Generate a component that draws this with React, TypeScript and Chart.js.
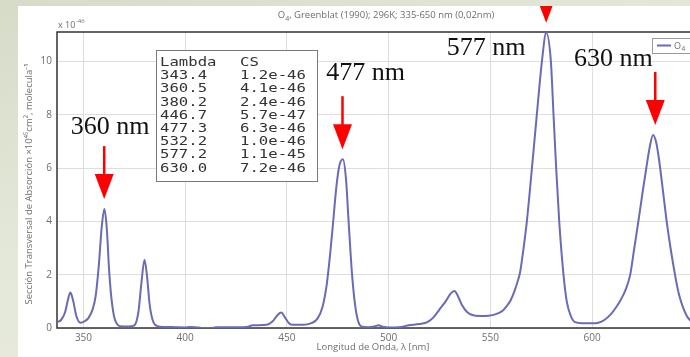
import React, { useEffect, useRef } from 'react';
import { Chart, registerables } from 'chart.js';

Chart.register(...registerables);

// ---- data ----
const wavelengths = [
  337, 339, 341, 342.5, 343.6, 345, 346.5, 348.5, 350.5, 352.5, 354.5, 356, 357.5, 359, 360.3, 361.5,
  362.5, 363.5, 365, 366.5, 368, 372, 375, 377, 378.5, 380, 381.3, 382.5, 384, 386, 390, 395, 400,
  402, 405, 408, 413, 415, 425, 431, 433, 440, 443, 445.5, 447.3, 449, 451, 453, 458, 462, 465,
  467.5, 469.5, 471, 472.5, 474.3, 475.8, 477.5, 479, 480.3, 482, 483.6, 485, 486.5, 490, 493, 495,
  497, 500, 505, 510, 515, 519, 522, 525, 528, 530.5, 532.3, 534, 536, 538.5, 541, 545, 549, 553,
  556, 558, 560, 562, 563.5, 564.6, 566.2, 567.9, 570.4, 572.8, 575.3, 577.4, 579.7, 581, 582.3, 583.8, 585.9,
  587.5, 589.5, 591.6, 595, 600, 603, 606, 609, 611.5, 614, 616.5, 618.7, 620.7, 622.7, 624.8, 626.6, 628.2,
  629.9, 631.5, 632.6, 633.4, 635, 636.6, 638.5, 640.7, 642.5, 644.5, 646.5, 648, 650,
];
const crossSection = [
  0.22, 0.3, 0.6, 1.1, 1.33, 1.0, 0.45, 0.2, 0.25, 0.38, 0.7, 1.2, 2.3, 3.8, 4.46, 3.7,
  2.3, 1.3, 0.45, 0.15, 0.07, 0.06, 0.1, 0.6, 1.7, 2.56, 1.9, 0.9, 0.3, 0.08, 0.04, 0.03, 0.02,
  0.04, 0.03, 0.0, 0.0, 0.03, 0.03, 0.05, 0.1, 0.12, 0.25, 0.5, 0.58, 0.4, 0.18, 0.12, 0.12, 0.18, 0.35,
  0.8, 1.6, 2.6, 3.8, 5.3, 6.1, 6.33, 5.6, 4.0, 2.0, 0.8, 0.25, 0.06, 0.03, 0.06, 0.1,
  0.05, 0.02, 0.03, 0.1, 0.15, 0.22, 0.4, 0.7, 1.0, 1.3, 1.39, 1.2, 0.86, 0.6, 0.49, 0.45, 0.46, 0.53,
  0.65, 0.82, 1.05, 1.42, 1.78, 2.1, 2.95, 4.0, 6.0, 8.0, 10.0, 11.07, 10.0, 8.0, 6.0, 4.0, 2.0,
  1.0, 0.45, 0.22, 0.18, 0.18, 0.2, 0.3, 0.5, 0.75, 1.05, 1.45, 2.0, 3.0, 4.0, 5.1, 6.0, 6.75,
  7.24, 6.95, 6.45, 6.0, 5.0, 4.0, 3.0, 2.0, 1.3, 0.8, 0.45, 0.3, 0.18,
];
const xTicks = [350, 400, 450, 500, 550, 600];
const yTicks = [0, 2, 4, 6, 8, 10];

const peakLabels = ['360 nm', '477 nm', '577 nm', '630 nm'];
const peakLambda = [360.2, 477.3, 577.4, 631.0];
const peakValue = [4.46, 6.33, 11.07, 7.24];

const tableLambda = ['343.4', '360.5', '380.2', '446.7', '477.3', '532.2', '577.2', '630.0'];
const tableCS = ['1.2e-46', '4.1e-46', '2.4e-46', '5.7e-47', '6.3e-46', '1.0e-46', '1.1e-45', '7.2e-46'];

const seriesName = 'O';
const seriesSub = '4';
const titleRest = ', Greenblat (1990); 296K; 335-650 nm (0,02nm)';
const xTitle = 'Longitud de Onda, λ [nm]';
const yTitle = 'Sección Transversal de Absorción ×10⁴⁵cm², molecula⁻¹';

// ---- styles ----
const LINE_COLOR = '#6a6ab6';
const TEXT_GRAY = '#6e6e6e';
const SANS = '"Open Sans", "Liberation Sans", sans-serif';
// label offsets relative to arrow tip (px)
const labelOffsets = [
  { dx: 6, dy: -65 },
  { dx: 23, dy: -69 },
  { dx: -60, dy: 32 },
  { dx: -42, dy: -59 },
];

const decorPlugin = {
  id: 'decor',
  beforeDatasetsDraw(chart: any) {
    const { ctx, chartArea } = chart;
    const { left, top, right, bottom } = chartArea;
    ctx.save();
    ctx.strokeStyle = '#333';
    ctx.lineWidth = 1.5;
    ctx.beginPath();
    ctx.moveTo(right + 10, top);
    ctx.lineTo(left, top);
    ctx.lineTo(left, bottom);
    ctx.lineTo(right + 10, bottom);
    ctx.stroke();
    ctx.restore();
  },
  afterDatasetsDraw(chart: any) {
    const { ctx, chartArea, scales } = chart;
    const { left, top, right, bottom } = chartArea;
    const xs = scales.x;
    const ys = scales.y;
    ctx.save();

    // title
    ctx.fillStyle = TEXT_GRAY;
    ctx.textBaseline = 'alphabetic';
    const tFont = `9.5px ${SANS}`;
    const sFont = `7px ${SANS}`;
    ctx.font = tFont;
    const wO = ctx.measureText(seriesName).width;
    const wRest = ctx.measureText(titleRest).width;
    ctx.font = sFont;
    const w4 = ctx.measureText(seriesSub).width;
    const totalW = wO + w4 + wRest;
    const tx = left + 329 - totalW / 2;
    const ty = top - 14;
    ctx.textAlign = 'left';
    ctx.font = tFont;
    ctx.fillText(seriesName, tx, ty);
    ctx.font = sFont;
    ctx.fillText(seriesSub, tx + wO, ty + 2.5);
    ctx.font = tFont;
    ctx.fillText(titleRest, tx + wO + w4, ty);

    // x10^-46
    ctx.font = `9px ${SANS}`;
    ctx.fillText('x 10', left + 1, top - 4);
    const wx = ctx.measureText('x 10').width;
    ctx.font = `6px ${SANS}`;
    ctx.fillText('-46', left + 1 + wx + 0.5, top - 9);

    // x title
    ctx.font = `9.5px ${SANS}`;
    ctx.textAlign = 'center';
    ctx.fillText(xTitle, left + 316, bottom + 22);

    // y title
    ctx.save();
    ctx.translate(left - 25, (top + bottom) / 2 + 4);
    ctx.rotate(-Math.PI / 2);
    ctx.textAlign = 'center';
    ctx.fillText(yTitle, 0, 0);
    ctx.restore();

    // table
    const tbX = left + 99;
    const tbY = top + 18;
    ctx.fillStyle = '#ffffff';
    ctx.fillRect(tbX, tbY, 161, 131);
    ctx.strokeStyle = '#7a7a7a';
    ctx.lineWidth = 1;
    ctx.strokeRect(tbX + 0.5, tbY + 0.5, 161, 131);
    ctx.fillStyle = '#333';
    ctx.textAlign = 'left';
    const rows = [['Lambda', 'CS']].concat(tableLambda.map((l, i) => [l, tableCS[i]]));
    rows.forEach((r, i) => {
      const by = tbY + 16 + i * 13.2;
      ctx.save();
      ctx.font = `12.5px "DejaVu Sans Mono", monospace`;
      ctx.translate(tbX + 4, by);
      ctx.scale(1.25, 1);
      ctx.fillText(r[0], 0, 0);
      ctx.restore();
      ctx.save();
      ctx.font = `12.5px "DejaVu Sans Mono", monospace`;
      ctx.translate(tbX + 84, by);
      ctx.scale(1.25, 1);
      ctx.fillText(r[1], 0, 0);
      ctx.restore();
    });

    // arrows + labels
    peakLabels.forEach((label, i) => {
      const px = xs.getPixelForValue(peakLambda[i]);
      const tipY = ys.getPixelForValue(peakValue[i]) - 10;
      const headLen = 25;
      const headHalf = 9.5;
      const shaft = 28;
      ctx.strokeStyle = '#ff0000';
      ctx.fillStyle = '#ff0000';
      ctx.lineWidth = 2.5;
      ctx.beginPath();
      ctx.moveTo(px, tipY - headLen - shaft);
      ctx.lineTo(px, tipY - headLen + 2);
      ctx.stroke();
      ctx.beginPath();
      ctx.moveTo(px - headHalf, tipY - headLen);
      ctx.lineTo(px + headHalf, tipY - headLen);
      ctx.lineTo(px, tipY);
      ctx.closePath();
      ctx.fill();
      ctx.fillStyle = '#111';
      ctx.font = `26px "Liberation Serif", "Times New Roman", serif`;
      ctx.textAlign = 'center';
      ctx.fillText(label, px + labelOffsets[i].dx, tipY + labelOffsets[i].dy);
    });

    // legend (cut at right)
    const lgX = right - 46;
    const lgY = top + 6;
    ctx.fillStyle = '#fff';
    ctx.fillRect(lgX, lgY, 52, 15);
    ctx.strokeStyle = '#9a9a9a';
    ctx.lineWidth = 1;
    ctx.strokeRect(lgX + 0.5, lgY + 0.5, 52, 15);
    ctx.strokeStyle = LINE_COLOR;
    ctx.lineWidth = 2;
    ctx.beginPath();
    ctx.moveTo(lgX + 5, lgY + 7.5);
    ctx.lineTo(lgX + 19, lgY + 7.5);
    ctx.stroke();
    ctx.fillStyle = TEXT_GRAY;
    ctx.textAlign = 'left';
    ctx.font = `9px ${SANS}`;
    ctx.fillText(seriesName, lgX + 22, lgY + 11);
    const wl = ctx.measureText(seriesName).width;
    ctx.font = `6.5px ${SANS}`;
    ctx.fillText(seriesSub, lgX + 22 + wl + 0.5, lgY + 13);

    ctx.restore();
  },
};

export default function App() {
  const ref = useRef<HTMLCanvasElement | null>(null);
  useEffect(() => {
    if (!ref.current) return;
    const chart = new Chart(ref.current, {
      type: 'line',
      data: {
        datasets: [
          {
            label: 'O4',
            data: wavelengths.map((x, i) => ({ x, y: crossSection[i] })),
            borderColor: LINE_COLOR,
            borderWidth: 2,
            pointRadius: 0,
            fill: false,
            cubicInterpolationMode: 'monotone',
          },
        ],
      },
      options: {
        animation: false,
        responsive: false,
        maintainAspectRatio: false,
        layout: { padding: { top: 26, right: 40, left: 0, bottom: 0 } },
        plugins: {
          legend: { display: false },
          tooltip: { enabled: false },
          title: { display: false },
        },
        scales: {
          x: {
            type: 'linear',
            min: 337,
            max: 652,
            afterBuildTicks: (s: any) => {
              s.ticks = xTicks.map((v) => ({ value: v }));
            },
            afterFit: (s: any) => {
              s.height = 29;
            },
            grid: { color: '#dedede', lineWidth: 1, drawTicks: false },
            border: { display: false },
            ticks: {
              color: TEXT_GRAY,
              font: { family: SANS, size: 10 },
              padding: 4,
              maxRotation: 0,
              autoSkip: false,
            },
          },
          y: {
            type: 'linear',
            min: 0,
            max: 11.1,
            afterBuildTicks: (s: any) => {
              s.ticks = yTicks.map((v) => ({ value: v }));
            },
            afterFit: (s: any) => {
              s.width = 39;
            },
            grid: { color: '#dedede', lineWidth: 1, drawTicks: false },
            border: { display: false },
            ticks: {
              color: TEXT_GRAY,
              font: { family: SANS, size: 10 },
              padding: 5,
              autoSkip: false,
            },
          },
        },
      },
      plugins: [decorPlugin],
    } as any);
    return () => chart.destroy();
  }, []);

  return (
    <div
      style={{
        position: 'fixed',
        left: 0,
        top: 0,
        width: 690,
        height: 357,
        overflow: 'hidden',
        background: 'linear-gradient(160deg, #d6dcc8 0%, #e3e7d8 40%, #eef0e2 100%)',
      }}
    >
      <canvas
        ref={ref}
        width={720}
        height={351}
        style={{ position: 'absolute', left: 18, top: 6, width: 720, height: 351, background: '#ffffff' }}
      />
    </div>
  );
}
